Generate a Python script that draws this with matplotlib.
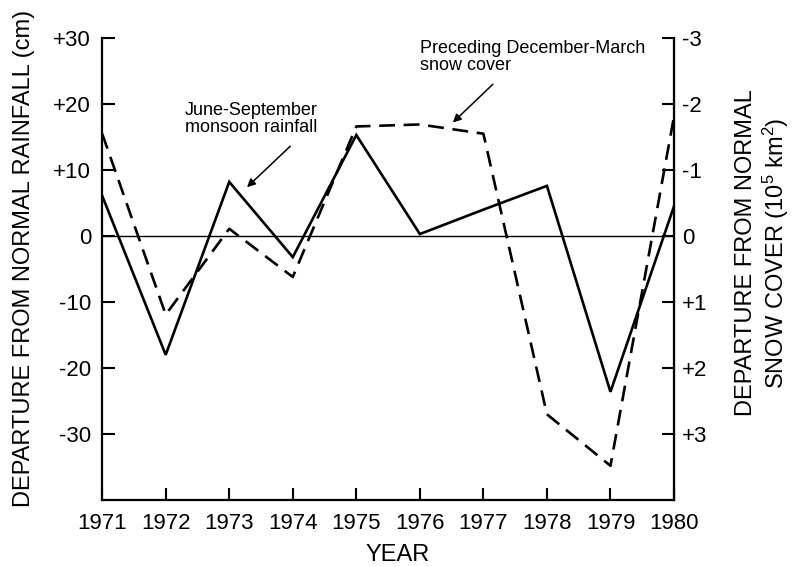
########################################################################
### Monsoon rainfall vs. preceding snow cover ###
########################################################################

#python modules
import matplotlib
matplotlib.use('Agg')
import matplotlib.pyplot as plt

#fonts
plt.rcParams['font.family'] = ['Liberation Sans', 'DejaVu Sans']
plt.rcParams['mathtext.fontset'] = 'custom'
plt.rcParams['mathtext.rm'] = 'Liberation Sans'
plt.rcParams['mathtext.it'] = 'Liberation Sans'


########################################################################
### Data ###
########################################################################

#years
years = [1971, 1972, 1973, 1974, 1975, 1976, 1977, 1978, 1979, 1980]

#June-September monsoon rainfall departure [cm]
rainfall = [6.1, -18.0, 8.2, -3.2, 15.3, 0.3, 4.0, 7.6, -23.6, 4.5]

#preceding December-March snow cover departure [10^5 km^2]
snow_cover = [-1.55, 1.19, -0.11, 0.62, -1.66, -1.69, -1.55, 2.70, 3.48, -1.81]

#tick labels
rain_ticks = [30, 20, 10, 0, -10, -20, -30]
rain_labels = ['+30', '+20', '+10', '0', '-10', '-20', '-30']
snow_ticks = [-3, -2, -1, 0, 1, 2, 3]
snow_labels = ['-3', '-2', '-1', '0', '+1', '+2', '+3']


########################################################################
### Plot ###
########################################################################

fig = plt.figure(figsize=(7.92, 5.67), dpi=100)
ax = fig.add_axes([0.129, 0.118, 0.722, 0.815])

#zero line
ax.axhline(0, color='black', lw=1.0, zorder=1)

#rainfall (solid)
ax.plot(years, rainfall, color='black', lw=1.9, solid_joinstyle='miter',
        zorder=3)

ax.set_xlim(1971, 1980)
ax.set_ylim(-40, 30)

#left axis ticks
ax.set_yticks(rain_ticks)
ax.set_yticklabels(rain_labels)
ax.set_xticks(years)
ax.set_xticklabels([str(y) for y in years])
ax.tick_params(axis='both', direction='in', length=9, width=1.5,
               labelsize=16, pad=8)
ax.tick_params(axis='x', pad=9)

#spines
ax.spines['top'].set_visible(False)
for s in ['left', 'bottom']:
    ax.spines[s].set_linewidth(1.6)

#snow cover (dashed) on inverted right axis
ax2 = ax.twinx()
ax2.plot(years, snow_cover, color='black', lw=1.9,
         linestyle=(0, (6, 3.3)), zorder=3)
ax2.set_ylim(4, -3)
ax2.set_yticks(snow_ticks)
ax2.set_yticklabels(snow_labels)
ax2.tick_params(axis='y', direction='in', length=9, width=1.5,
                labelsize=16, pad=6)
ax2.spines['top'].set_visible(False)
ax2.spines['left'].set_visible(False)
ax2.spines['bottom'].set_visible(False)
ax2.spines['right'].set_linewidth(1.6)

#axis labels
ax.set_ylabel('DEPARTURE FROM NORMAL RAINFALL (cm)', fontsize=17,
              ha='center', va='center')
ax.yaxis.set_label_coords(-0.136, 0.524)
ax2.set_ylabel('DEPARTURE FROM NORMAL\nSNOW COVER (10$^5$ km$^2$)',
               fontsize=17, ha='center', va='center', linespacing=1.15)
ax2.yaxis.set_label_coords(1.156, 0.535)
ax.set_xlabel('YEAR', fontsize=17, ha='center', va='bottom')
ax.xaxis.set_label_coords(0.516, -0.1425)

#annotations
ax.text(1973.34, 17.7, 'June-September\nmonsoon rainfall', fontsize=13,
        ha='center', va='center', linespacing=1.0)
ax.annotate('', xy=(1973.28, 7.4), xytext=(1973.96, 13.6),
            arrowprops=dict(arrowstyle='-|>', color='black', lw=1.1,
                            mutation_scale=12, shrinkA=0, shrinkB=0))

ax.text(1976.0, 27.1, 'Preceding December-March\nsnow cover', fontsize=13,
        ha='left', va='center', linespacing=1.0)
ax.annotate('', xy=(1976.52, 17.2), xytext=(1977.15, 23.0),
            arrowprops=dict(arrowstyle='-|>', color='black', lw=1.1,
                            mutation_scale=12, shrinkA=0, shrinkB=0))

#save
fig.savefig('out.png', dpi=100)
